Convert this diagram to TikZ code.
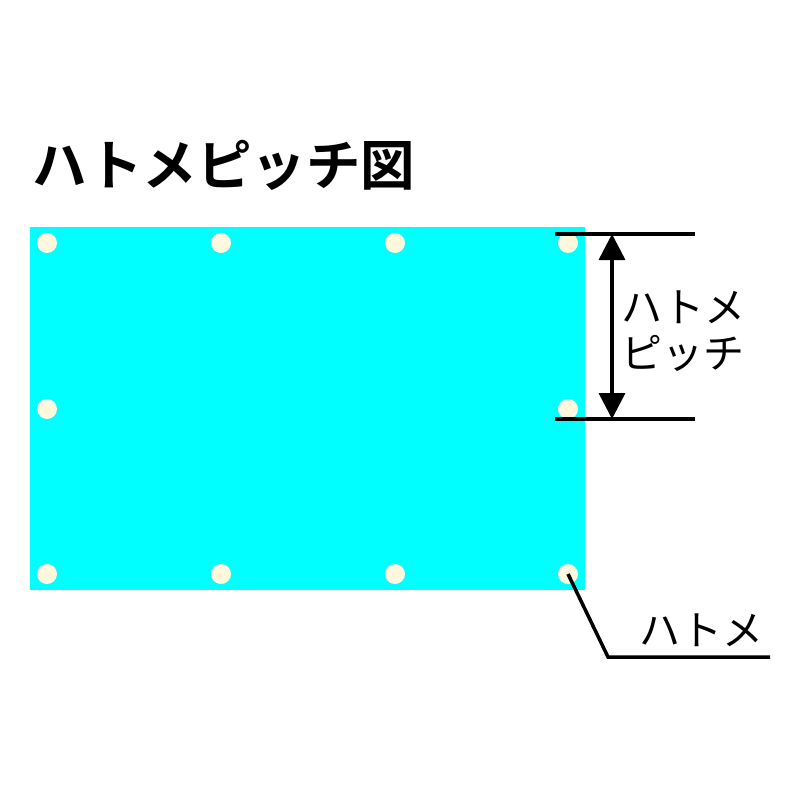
\documentclass[tikz,border=0pt]{standalone}
\usepackage{fontspec}
\newfontfamily\cjk{Noto Sans CJK JP}
\newfontfamily\cjkbold{Noto Sans CJK JP Bold}
\usetikzlibrary{arrows.meta}
\definecolor{sheet}{HTML}{00FFFF}
\definecolor{grommet}{HTML}{FFF8DC}
\tikzset{
  hole/.style={circle,fill=grommet,minimum size=20pt,inner sep=0pt},
  dimline/.style={line width=3.5pt,black},
  lbl/.style={font=\cjk\fontsize{41pt}{46pt}\selectfont,inner sep=0pt,align=left}
}
\begin{document}
\begin{tikzpicture}[x=1pt,y=-1pt]
\useasboundingbox (0,0) rectangle (800,800);
\fill[white] (0,0) rectangle (800,800);
\node[anchor=west,inner sep=0pt,font=\cjkbold\fontsize{54.5pt}{58pt}\selectfont] (title) at (32,165) {ハトメピッチ図};
\fill[sheet] (30,227) rectangle (585,590);
\foreach \i/\x in {1/47,2/221,3/395,4/568}{
  \node[hole] (h\i1) at (\x,243) {};
  \node[hole] (h\i3) at (\x,574) {};
}
\node[hole] (h12) at (47,409) {};
\node[hole] (h42) at (568,409) {};
\coordinate (t1) at (555,234);
\coordinate (t2) at (695,234);
\coordinate (b1) at (555,419);
\coordinate (b2) at (695,419);
\draw[dimline] (t1) -- (t2);
\draw[dimline] (b1) -- (b2);
\coordinate (at) at (612,234);
\coordinate (ab) at (612,419);
\draw[dimline,{Triangle[length=26pt,width=26pt]}-{Triangle[length=26pt,width=26pt]}] (at) -- (ab);
\node[lbl,anchor=west] (pitch) at (621,331) {ハトメ\\ピッチ};
\coordinate (elbow) at (608,657);
\coordinate (lend) at (770,657);
\draw[dimline] (h43.center) -- (elbow) -- (lend);
\node[lbl,anchor=south west] (hatome) at (639,647) {ハトメ};
\end{tikzpicture}
\end{document}
